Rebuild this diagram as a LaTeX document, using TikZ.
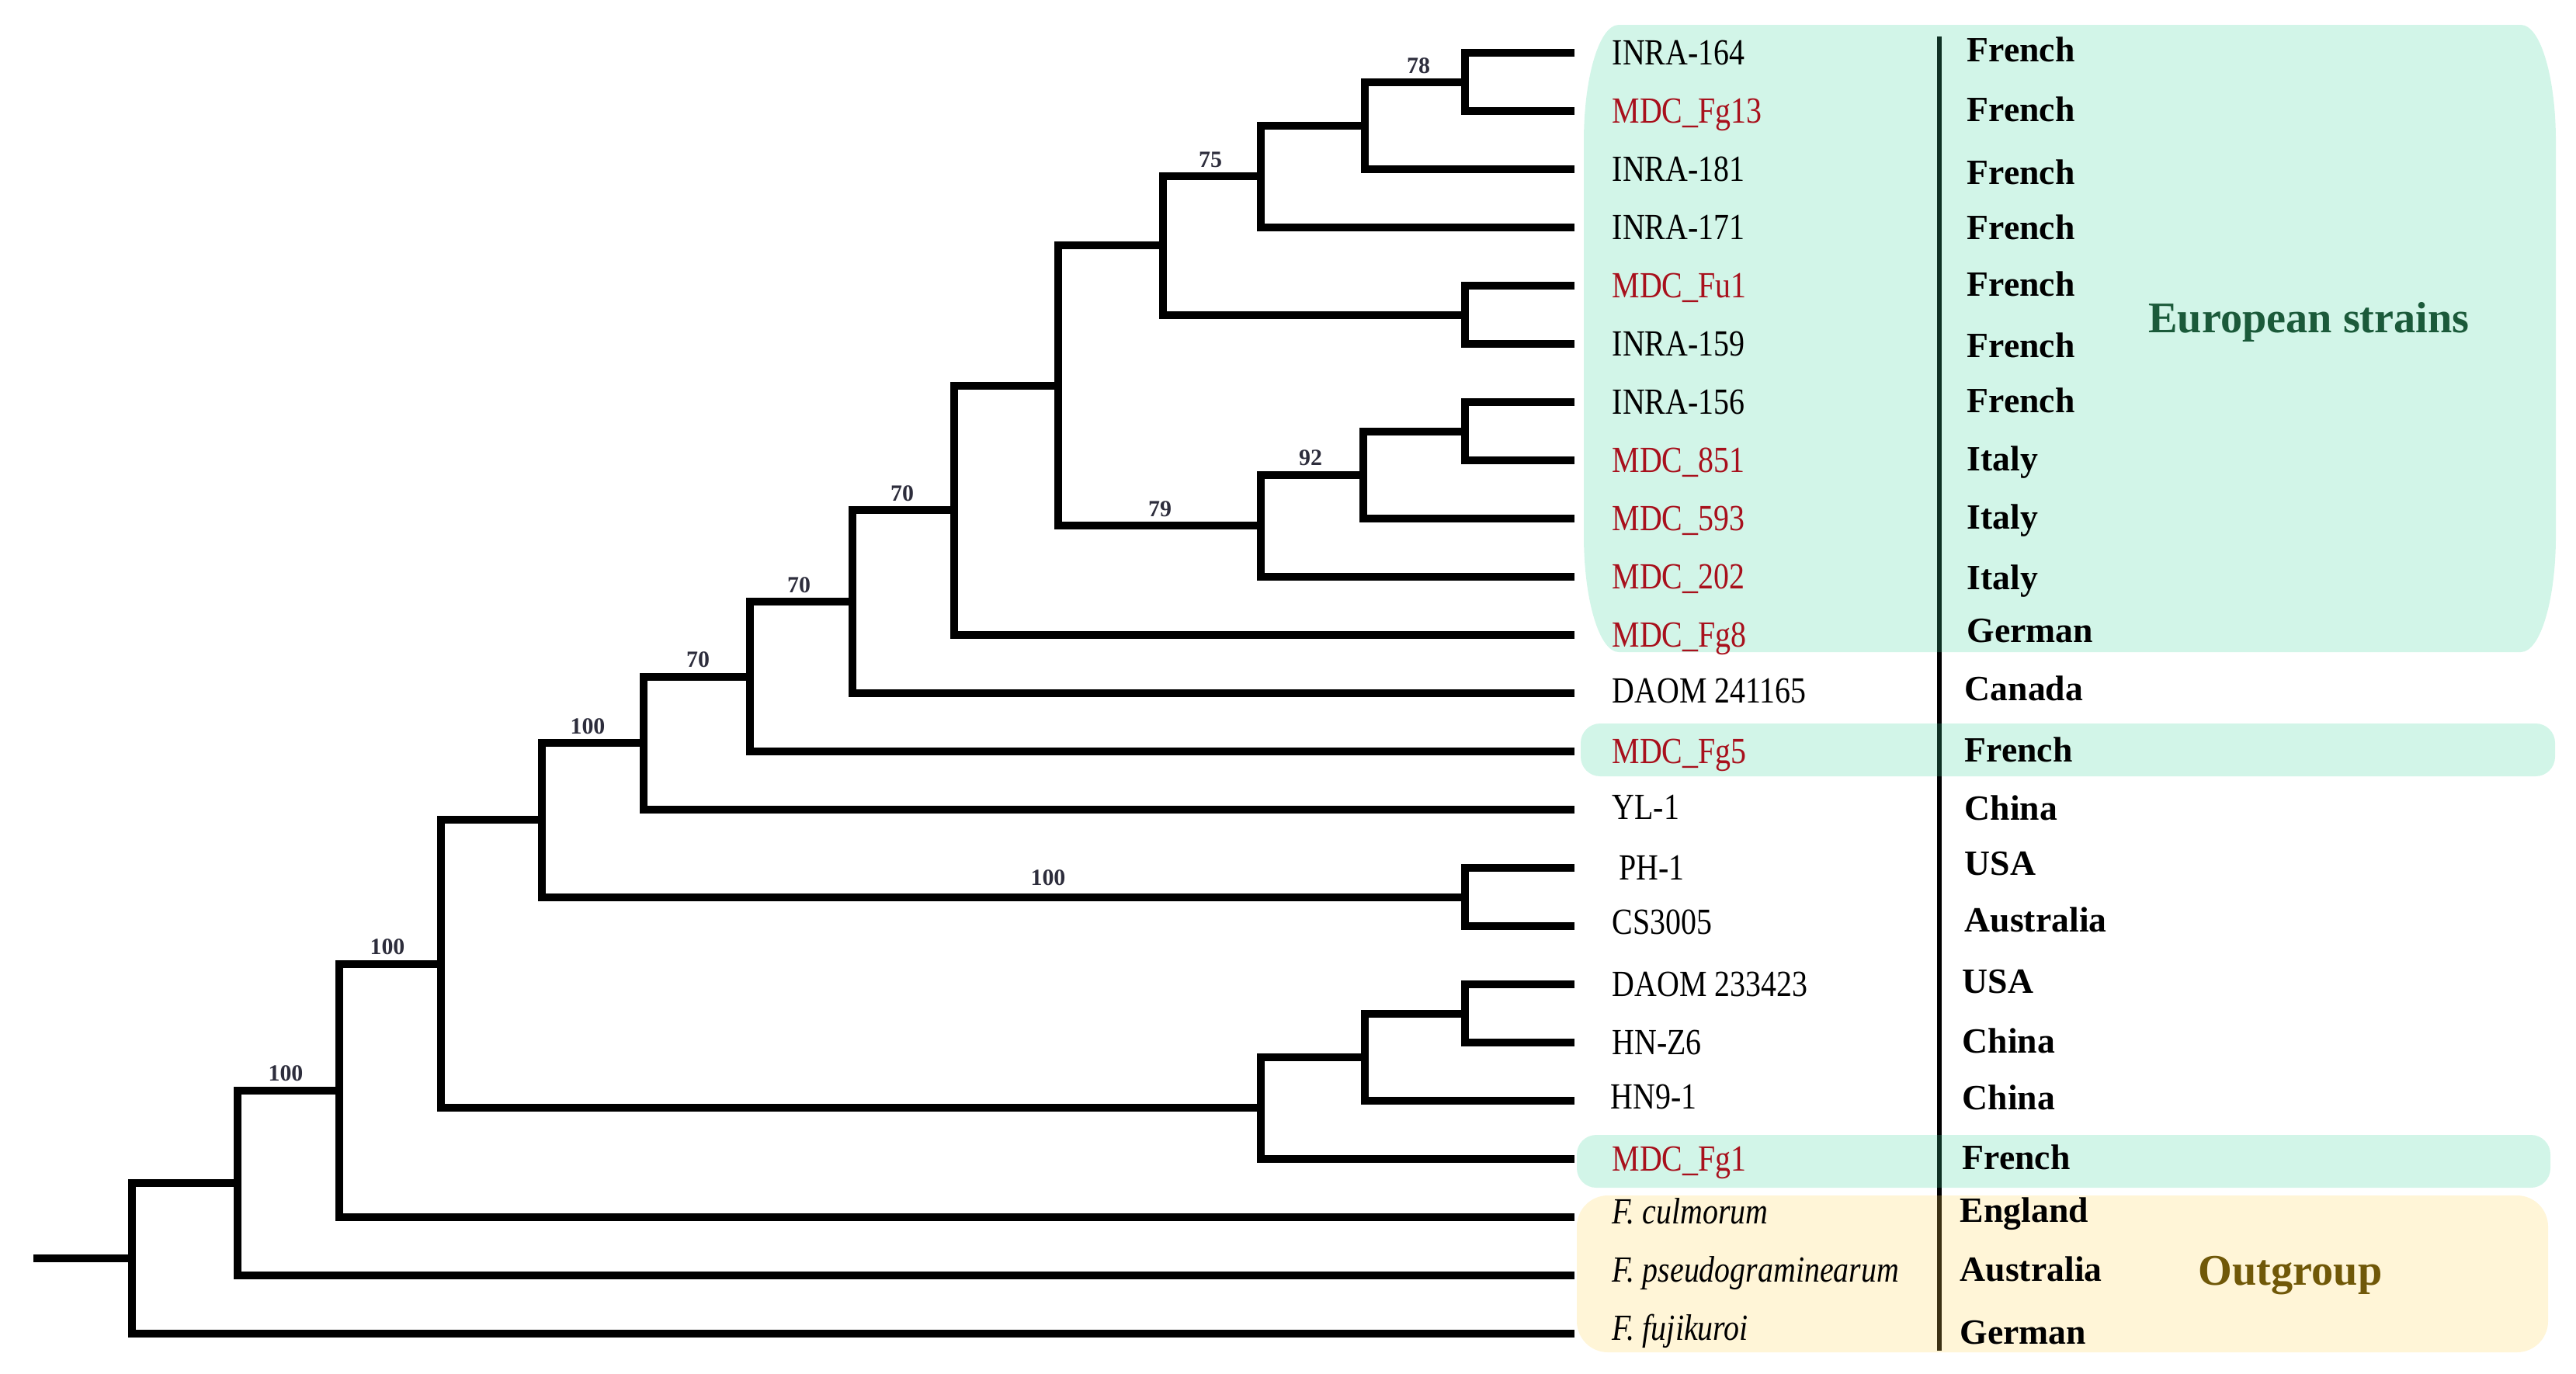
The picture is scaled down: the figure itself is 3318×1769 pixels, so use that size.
\documentclass[tikz,border=0pt]{standalone}
\usepackage{fontspec}
\setmainfont{Liberation Serif}
\newfontfamily\condit{Liberation Serif}[FakeStretch=0.84]
\definecolor{eugreen}{RGB}{64,212,157}
\definecolor{outyel}{RGB}{255,212,85}
\definecolor{mdcred}{RGB}{168,16,28}
\definecolor{eutext}{RGB}{27,90,58}
\definecolor{outtext}{RGB}{112,88,8}
\definecolor{supp}{RGB}{45,45,60}
\begin{document}
\begin{tikzpicture}[x=0.01cm,y=-0.01cm,
  br/.style={line width=0.1cm, black, line join=miter},
  leaflab/.style={anchor=base west, inner sep=0pt, font=\fontsize{13.5}{16}\condit},
  ctry/.style={anchor=base west, inner sep=0pt, font=\fontsize{13}{16}\selectfont\bfseries},
  supl/.style={inner sep=0pt, text=supp, font=\fontsize{8.5}{10}\selectfont\bfseries},
  eubox/.style={fill=eugreen, fill opacity=0.235, draw=none},
  ogbox/.style={fill=outyel, fill opacity=0.235, draw=none},
  grplab/.style={anchor=base, inner sep=0pt, font=\fontsize{16}{18}\selectfont\bfseries}]
\useasboundingbox (0,0) rectangle (3318,1769);

% separator line
\coordinate (septop) at (2498,47);
\coordinate (sepbot) at (2498,1740);
\draw[line width=0.06cm] (septop) -- (sepbot);

% highlight boxes
\fill[eubox] (2085,32) -- (3247,32) .. controls (3272,32) and (3292,99) .. (3292,182)
  -- (3292,690) .. controls (3292,773) and (3272,840) .. (3247,840)
  -- (2085,840) .. controls (2060,840) and (2040,773) .. (2040,690)
  -- (2040,182) .. controls (2040,99) and (2060,32) .. (2085,32) -- cycle;
\fill[eubox, rounded corners=0.25cm] (2036,932) rectangle (3291,1000);
\fill[eubox, rounded corners=0.25cm] (2031,1462) rectangle (3285,1530);
\fill[ogbox, rounded corners=0.4cm] (2031,1540) rectangle (3282,1742);

% leaves: index/label/colour/country/label x/country x/label dy/country dy
\foreach \i/\lab/\col/\ctry/\lx/\cx/\ld/\cd in {
  0/INRA-164/black/French/2076/2533/0/-2,
  1/MDC\_Fg13/mdcred/French/2076/2533/0/0,
  2/INRA-181/black/French/2076/2533/0/6,
  3/INRA-171/black/French/2076/2533/0/2,
  4/MDC\_Fu1/mdcred/French/2076/2533/0/0,
  5/INRA-159/black/French/2076/2533/0/4,
  6/INRA-156/black/French/2076/2533/0/0,
  7/MDC\_851/mdcred/Italy/2076/2533/0/0,
  8/MDC\_593/mdcred/Italy/2076/2533/0/0,
  9/MDC\_202/mdcred/Italy/2076/2533/0/3,
  10/MDC\_Fg8/mdcred/German/2076/2533/0/-4,
  11/DAOM 241165/black/Canada/2076/2530/-3/-4,
  12/MDC\_Fg5/mdcred/French/2076/2530/0/0,
  13/YL-1/black/China/2076/2530/-3/0,
  14/PH-1/black/USA/2085/2530/0/-4,
  15/CS3005/black/Australia/2076/2530/-5/-6,
  16/DAOM 233423/black/USA/2076/2527/0/-2,
  17/HN-Z6/black/China/2076/2527/0/0,
  18/HN9-1/black/China/2074/2527/-5/-2,
  19/MDC\_Fg1/mdcred/French/2076/2527/0/0}
{
  \pgfmathsetmacro\yy{68+75*\i}
  \coordinate (L\i) at (2028,\yy);
  \node[leaflab, text=\col] (T\i) at (\lx,\yy+15+\ld) {\lab};
  \node[ctry] (C\i) at (\cx,\yy+13+\cd) {\ctry};
}
\foreach \i/\lab/\ctry/\cd in {
  20/culmorum/England/-7,
  21/pseudograminearum/Australia/-6,
  22/fujikuroi/German/0}
{
  \pgfmathsetmacro\yy{68+75*\i}
  \coordinate (L\i) at (2028,\yy);
  \node[leaflab, font=\fontsize{13.5}{16}\condit\itshape] (T\i) at (2076,\yy+8) {F. \lab};
  \node[ctry] (C\i) at (2524,\yy+13+\cd) {\ctry};
}

% internal nodes
\coordinate (a) at (1887,105.5);
\coordinate (b) at (1758,161.75);
\coordinate (c) at (1624,227.4);
\coordinate (d) at (1887,405.5);
\coordinate (e) at (1498,316.4);
\coordinate (f) at (1887,555.5);
\coordinate (g) at (1756,611.75);
\coordinate (h) at (1624,677.4);
\coordinate (i) at (1363,496.9);
\coordinate (j) at (1229,657.4);
\coordinate (k) at (1098,775.2);
\coordinate (l) at (966,871.6);
\coordinate (m) at (829,957.3);
\coordinate (n) at (1887,1155.5);
\coordinate (o) at (698,1056.4);
\coordinate (p) at (1887,1305.5);
\coordinate (q) at (1758,1361.75);
\coordinate (r) at (1624,1427.4);
\coordinate (s) at (568,1241.9);
\coordinate (t) at (437,1405);
\coordinate (u) at (306,1524);
\coordinate (v) at (170,1621);
\coordinate (root) at (43,1621);

% branches
\foreach \nd/\A/\B in {a/L0/L1, b/a/L2, c/b/L3, d/L4/L5, e/c/d, f/L6/L7, g/f/L8,
  h/g/L9, i/e/h, j/i/L10, k/j/L11, l/k/L12, m/l/L13, n/L14/L15, o/m/n,
  p/L16/L17, q/p/L18, r/q/L19, s/o/r, t/s/L20, u/t/L21, v/u/L22}
  \draw[br] (\A) -| (\nd) |- (\B);
\draw[br] (root) -- (v);

% support values
\node[supl] (s78) at (1827,85) {78};
\node[supl] (s75) at (1559,206) {75};
\node[supl] (s79) at (1494,656) {79};
\node[supl] (s92) at (1688,590) {92};
\node[supl] (s70a) at (1162,636) {70};
\node[supl] (s70b) at (1029,754) {70};
\node[supl] (s70c) at (899,850) {70};
\node[supl] (s100a) at (757,936) {100};
\node[supl] (s100b) at (1350,1131) {100};
\node[supl] (s100c) at (499,1220) {100};
\node[supl] (s100d) at (368,1383) {100};

% group labels
\node[grplab, text=eutext] (eu) at (2974,428) {European strains};
\node[grplab, text=outtext] (og) at (2950,1655) {Outgroup};
\end{tikzpicture}
\end{document}
